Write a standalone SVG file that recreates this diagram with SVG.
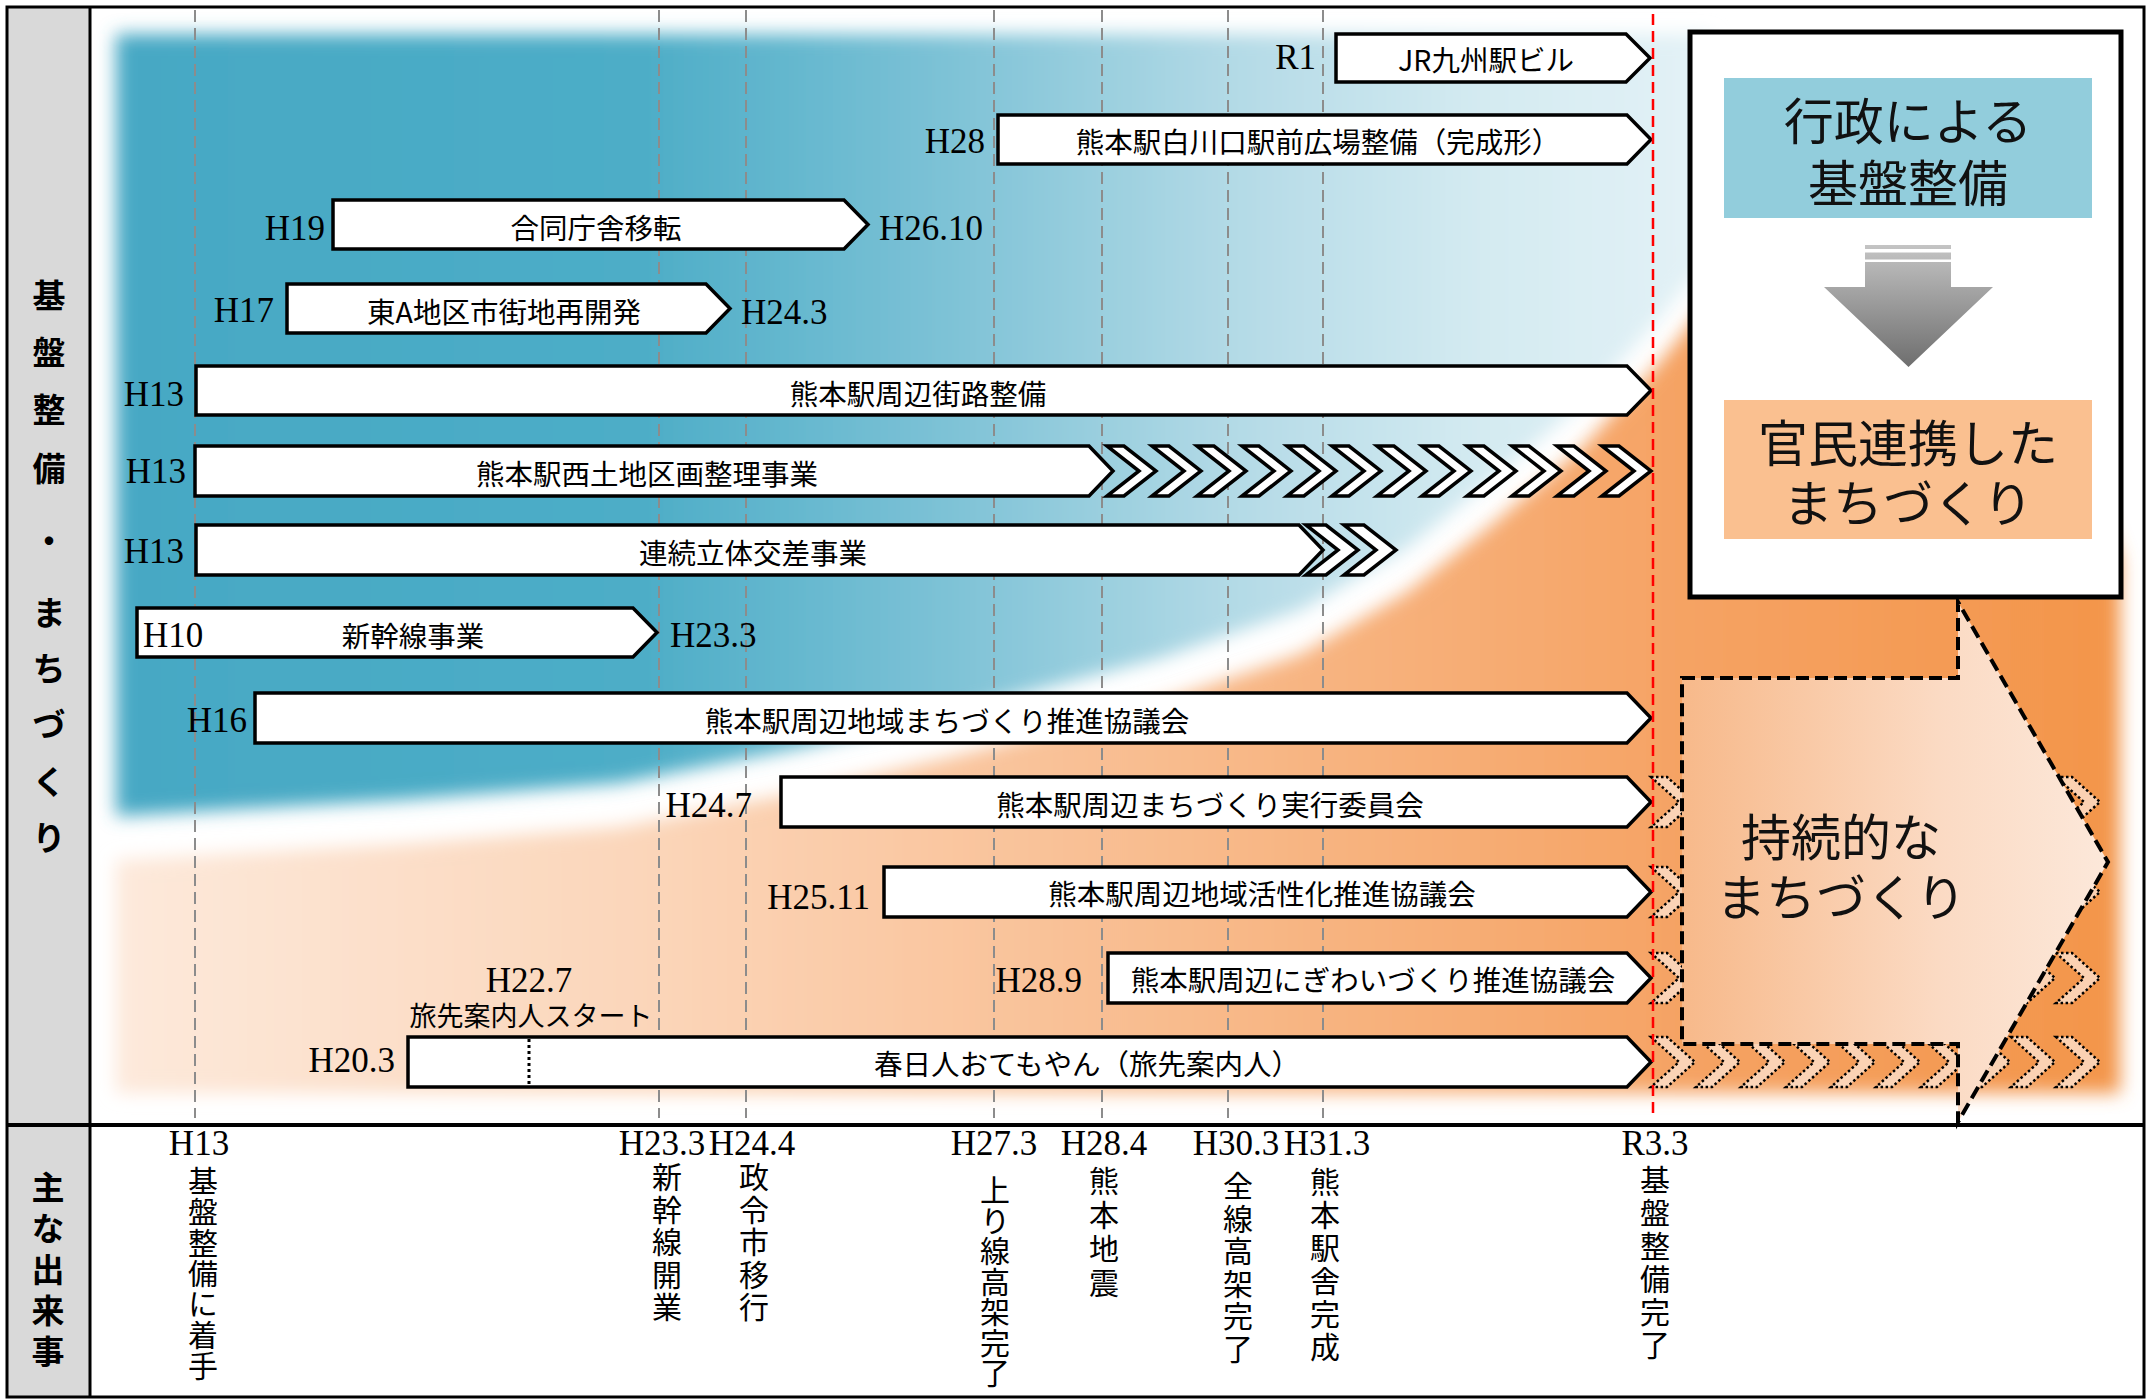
<svg xmlns="http://www.w3.org/2000/svg" width="2147" height="1400" viewBox="0 0 2147 1400">
<defs>
<style>
.bar{fill:#fff;stroke:#000;stroke-width:3.5;stroke-linejoin:miter}
.grid{stroke:#8c8c8c;stroke-width:2;stroke-dasharray:12 6;fill:none}
.lb{font-family:"Liberation Serif","Times New Roman",serif;font-size:35px;fill:#000}
.e{text-anchor:end}
.s{text-anchor:start}
.m{text-anchor:middle}
.jp{font-family:"Noto Sans CJK JP","Noto Sans",sans-serif;font-size:28.5px;fill:#000;text-anchor:middle}
.side{font-family:"Noto Sans CJK JP","Noto Sans",sans-serif;font-size:33px;font-weight:bold;fill:#000;text-anchor:middle}
.sidev{font-family:"Noto Sans CJK JP","Noto Sans",sans-serif;font-size:33px;font-weight:bold;fill:#000;writing-mode:vertical-rl;text-anchor:start}
.ev{font-family:"Noto Sans CJK JP","Noto Sans",sans-serif;font-size:30px;fill:#000;writing-mode:vertical-rl;text-anchor:start}
.big{font-family:"Noto Sans CJK JP","Noto Sans",sans-serif;font-size:50px;fill:#111;text-anchor:middle}
</style>
<linearGradient id="gBlue" gradientUnits="userSpaceOnUse" x1="116" y1="0" x2="1712" y2="0">
<stop offset="0" stop-color="#46A8C4"/>
<stop offset="0.33" stop-color="#4DADC7"/>
<stop offset="0.52" stop-color="#7DC2D6"/>
<stop offset="0.7" stop-color="#B3DAE6"/>
<stop offset="0.85" stop-color="#D3EAF1"/>
<stop offset="1" stop-color="#E4F2F6"/>
</linearGradient>
<linearGradient id="gOrange" gradientUnits="userSpaceOnUse" x1="116" y1="0" x2="2120" y2="0">
<stop offset="0" stop-color="#FDE9DB"/>
<stop offset="0.26" stop-color="#FBD6BA"/>
<stop offset="0.44" stop-color="#F9C49C"/>
<stop offset="0.64" stop-color="#F7B07A"/>
<stop offset="0.78" stop-color="#F5A364"/>
<stop offset="1" stop-color="#F3954A"/>
</linearGradient>
<linearGradient id="gArrow" gradientUnits="userSpaceOnUse" x1="1682" y1="0" x2="2108" y2="0">
<stop offset="0" stop-color="#F7B98A"/>
<stop offset="0.6" stop-color="#FBDAC3"/>
<stop offset="1" stop-color="#FCE8DA"/>
</linearGradient>
<linearGradient id="gDown" gradientUnits="userSpaceOnUse" x1="0" y1="245" x2="0" y2="367">
<stop offset="0" stop-color="#C4C4C4"/>
<stop offset="1" stop-color="#6E6E6E"/>
</linearGradient>
<filter id="soft" x="-5%" y="-5%" width="110%" height="110%">
<feGaussianBlur stdDeviation="9"/>
</filter>
<path id="chv" d="M0,0 H17 L49,25 L17,50 H0 L32,25 Z" fill="#fff" stroke="#000" stroke-width="3.5"/>
<path id="chv2" d="M0,0 H20 L52,25 L20,50 H0 L32,25 Z" fill="#fff" stroke="#000" stroke-width="3.5"/>
<path id="dchv" d="M0,0 H16 L44,25 L16,50 H0 L28,25 Z" fill="#FCDCC4" fill-opacity="0.85" stroke="#000" stroke-width="2.5" stroke-dasharray="2.5 2.5"/>
</defs>

<rect x="0" y="0" width="2147" height="1400" fill="#fff"/>
<rect x="7" y="7" width="83" height="1390" fill="#D9D9D9"/>

<g id="background">
<path filter="url(#soft)" fill="url(#gBlue)" d="M116,34 L1712,34 L1712,253 L1660,318 L1582,404 L1491,481 L1407,548 L1301,610 L1161,658 L951,713 L800,748 L620,783 L400,800 L116,816 Z"/>
<path filter="url(#soft)" fill="url(#gOrange)" d="M116,860 L400,844 L620,827 L800,792 L951,757 L1161,702 L1301,654 L1407,592 L1491,525 L1582,448 L1660,362 L1712,297 L1760,240 L2000,240 L2120,560 L2120,1093 L116,1093 Z"/>
</g>

<g id="gridlines">
<line class="grid" x1="195" y1="10" x2="195" y2="1118"/>
<line class="grid" x1="659" y1="10" x2="659" y2="1118"/>
<line class="grid" x1="746" y1="10" x2="746" y2="1118"/>
<line class="grid" x1="994" y1="10" x2="994" y2="1118"/>
<line class="grid" x1="1102" y1="10" x2="1102" y2="1118"/>
<line class="grid" x1="1228" y1="10" x2="1228" y2="1118"/>
<line class="grid" x1="1323" y1="10" x2="1323" y2="1118"/>
</g>

<g id="bar-jr">
<path class="bar" d="M1336,34 H1626 L1650,58 L1626,82 H1336 Z"/>
<text class="jp" x="1486" y="71">JR九州駅ビル</text>
<text class="lb e" x="1316" y="69">R1</text>
</g>
<g id="bar-shirakawa">
<path class="bar" d="M998,115 H1627 L1651,139.5 L1627,164 H998 Z"/>
<text class="jp" x="1318" y="153">熊本駅白川口駅前広場整備（完成形）</text>
<text class="lb e" x="985" y="152.5">H28</text>
</g>
<g id="bar-godo">
<path class="bar" d="M333,200 H844 L868,224.5 L844,249 H333 Z"/>
<text class="jp" x="596" y="239">合同庁舎移転</text>
<text class="lb e" x="325" y="239.5">H19</text>
<text class="lb s" x="879" y="239.5">H26.10</text>
</g>
<g id="bar-higashiA">
<path class="bar" d="M287,284 H706 L730,308.5 L706,333 H287 Z"/>
<text class="jp" x="504" y="323">東A地区市街地再開発</text>
<text class="lb e" x="274" y="321.5">H17</text>
<text class="lb s" x="741" y="323.5">H24.3</text>
</g>
<g id="bar-gairo">
<path class="bar" d="M196,366 H1627 L1651,390.5 L1627,415 H196 Z"/>
<text class="jp" x="918" y="405">熊本駅周辺街路整備</text>
<text class="lb e" x="184" y="405.5">H13</text>
</g>
<g id="bar-nishi">
<path class="bar" d="M195,446 H1089 L1113,471 L1089,496 H195 Z"/>
<use href="#chv" x="1107" y="446"/>
<use href="#chv" x="1152" y="446"/>
<use href="#chv" x="1197" y="446"/>
<use href="#chv" x="1242" y="446"/>
<use href="#chv" x="1287" y="446"/>
<use href="#chv" x="1332" y="446"/>
<use href="#chv" x="1377" y="446"/>
<use href="#chv" x="1422" y="446"/>
<use href="#chv" x="1467" y="446"/>
<use href="#chv" x="1512" y="446"/>
<use href="#chv" x="1557" y="446"/>
<use href="#chv" x="1602" y="446"/>
<text class="jp" x="647" y="485">熊本駅西土地区画整理事業</text>
<text class="lb e" x="186" y="482.5">H13</text>
</g>
<g id="bar-renzoku">
<path class="bar" d="M196,525 H1299 L1323,550 L1299,575 H196 Z"/>
<use href="#chv2" x="1306" y="525"/>
<use href="#chv2" x="1344" y="525"/>
<text class="jp" x="753" y="564">連続立体交差事業</text>
<text class="lb e" x="184" y="562.5">H13</text>
</g>
<g id="bar-shinkansen">
<path class="bar" d="M137,608 H633 L657,632.5 L633,657 H137 Z"/>
<text class="jp" x="413" y="647">新幹線事業</text>
<text class="lb s" x="143" y="646.5">H10</text>
<text class="lb s" x="670" y="646.5">H23.3</text>
</g>
<g id="bar-kyogikai">
<path class="bar" d="M255,693 H1627 L1651,718 L1627,743 H255 Z"/>
<text class="jp" x="947" y="732">熊本駅周辺地域まちづくり推進協議会</text>
<text class="lb e" x="247" y="731.5">H16</text>
</g>

<g id="dotted-chevrons">
<use href="#dchv" x="1651" y="777"/><use href="#dchv" x="1696" y="777"/><use href="#dchv" x="2011" y="777"/><use href="#dchv" x="2056" y="777"/>
<use href="#dchv" x="1651" y="867"/><use href="#dchv" x="1696" y="867"/><use href="#dchv" x="2011" y="867"/><use href="#dchv" x="2056" y="867"/>
<use href="#dchv" x="1651" y="953"/><use href="#dchv" x="1696" y="953"/><use href="#dchv" x="2011" y="953"/><use href="#dchv" x="2056" y="953"/>
<use href="#dchv" x="1651" y="1037"/><use href="#dchv" x="1696" y="1037"/><use href="#dchv" x="1741" y="1037"/><use href="#dchv" x="1786" y="1037"/><use href="#dchv" x="1831" y="1037"/><use href="#dchv" x="1876" y="1037"/><use href="#dchv" x="1921" y="1037"/><use href="#dchv" x="1966" y="1037"/><use href="#dchv" x="2011" y="1037"/><use href="#dchv" x="2056" y="1037"/>
</g>

<g id="bar-jikko">
<path class="bar" d="M781,777 H1627 L1651,802 L1627,827 H781 Z"/>
<text class="jp" x="1210" y="816">熊本駅周辺まちづくり実行委員会</text>
<text class="lb e" x="752" y="816.5">H24.7</text>
</g>
<g id="bar-kasseika">
<path class="bar" d="M884,867 H1627 L1651,892 L1627,917 H884 Z"/>
<text class="jp" x="1262" y="905">熊本駅周辺地域活性化推進協議会</text>
<text class="lb e" x="870" y="908.5">H25.11</text>
</g>
<g id="bar-nigiwai">
<path class="bar" d="M1108,953 H1627 L1651,978 L1627,1003 H1108 Z"/>
<text class="jp" x="1373" y="991">熊本駅周辺にぎわいづくり推進協議会</text>
<text class="lb e" x="1082" y="991.5">H28.9</text>
</g>
<g id="bar-otemoyan">
<path class="bar" d="M408,1037 H1627 L1651,1062 L1627,1087 H408 Z"/>
<line x1="529" y1="1039" x2="529" y2="1085" stroke="#000" stroke-width="3" stroke-dasharray="3 3"/>
<text class="jp" x="1087" y="1075">春日人おてもやん（旅先案内人）</text>
<text class="lb e" x="395" y="1071.5">H20.3</text>
<text class="lb m" x="529" y="992">H22.7</text>
<text class="jp" x="531" y="1026" style="font-size:27px">旅先案内人スタート</text>
</g>

<line id="r3-line" x1="1653" y1="14" x2="1653" y2="1118" stroke="#FF0000" stroke-width="2.5" stroke-dasharray="11 6"/>

<g id="sustainable">
<path d="M1682,678 H1958 V602 L2108,862 L1958,1122 V1044 H1682 Z" fill="url(#gArrow)" stroke="#000" stroke-width="4" stroke-dasharray="13 6"/>
<text class="big" x="1841" y="856">持続的な</text>
<text class="big" x="1841" y="916">まちづくり</text>
</g>

<g id="panel">
<rect x="1690" y="32" width="431" height="565" fill="#fff" stroke="#000" stroke-width="5"/>
<g id="box-gyosei">
<rect x="1724" y="78" width="368" height="140" fill="#92CDDC"/>
<text class="big" x="1908" y="139.5">行政による</text>
<text class="big" x="1908" y="202">基盤整備</text>
</g>
<g id="box-kanmin">
<rect x="1724" y="400" width="368" height="139" fill="#FAC090"/>
<text class="big" x="1908" y="462">官民連携した</text>
<text class="big" x="1908" y="522">まちづくり</text>
</g>
</g>

<g id="connectors">
<rect x="1865" y="245" width="86" height="4" fill="url(#gDown)"/>
<rect x="1865" y="252.5" width="86" height="7" fill="url(#gDown)"/>
<path d="M1865,262 H1951 V287 H1993 L1908.5,367 L1824,287 H1865 Z" fill="url(#gDown)"/>
</g>

<g id="frame">
<rect x="7" y="7" width="2137" height="1390" fill="none" stroke="#000" stroke-width="3"/>
<line x1="90" y1="7" x2="90" y2="1397" stroke="#000" stroke-width="3"/>
<line x1="7" y1="1125" x2="2144" y2="1125" stroke="#000" stroke-width="4"/>
</g>

<g id="side-labels">
<text class="side">
<tspan x="49" y="307.5">基</tspan><tspan x="49" y="364.5">盤</tspan><tspan x="49" y="421.5">整</tspan><tspan x="49" y="480.5">備</tspan><tspan x="49" y="552.5">・</tspan><tspan x="49" y="624.5">ま</tspan><tspan x="49" y="680.5">ち</tspan><tspan x="49" y="736.5">づ</tspan><tspan x="49" y="793.5">く</tspan><tspan x="49" y="849.5">り</tspan>
</text>
<text class="sidev" x="48" y="1170.5" letter-spacing="8">主な出来事</text>
</g>

<g id="events">
<g id="ev-h13">
<text class="lb m" x="199" y="1154.5">H13</text>
<text class="ev" x="203" y="1166" letter-spacing="0.7">基盤整備に着手</text>
</g>
<g id="ev-h23">
<text class="lb m" x="662" y="1154.5">H23.3</text>
<text class="ev" x="667" y="1162" letter-spacing="2.5">新幹線開業</text>
</g>
<g id="ev-h24">
<text class="lb m" x="752" y="1154.5">H24.4</text>
<text class="ev" x="754" y="1162" letter-spacing="2.5">政令市移行</text>
</g>
<g id="ev-h27">
<text class="lb m" x="994" y="1154.5">H27.3</text>
<text class="ev" x="995" y="1175" letter-spacing="0.5">上り線高架完了</text>
</g>
<g id="ev-h28">
<text class="lb m" x="1104" y="1154.5">H28.4</text>
<text class="ev" x="1104" y="1166" letter-spacing="4">熊本地震</text>
</g>
<g id="ev-h30">
<text class="lb m" x="1236" y="1154.5">H30.3</text>
<text class="ev" x="1238" y="1171" letter-spacing="2.5">全線高架完了</text>
</g>
<g id="ev-h31">
<text class="lb m" x="1327" y="1154.5">H31.3</text>
<text class="ev" x="1325" y="1167" letter-spacing="3">熊本駅舎完成</text>
</g>
<g id="ev-r3">
<text class="lb m" x="1655" y="1154.5">R3.3</text>
<text class="ev" x="1655" y="1165" letter-spacing="3">基盤整備完了</text>
</g>
</g>
</svg>
